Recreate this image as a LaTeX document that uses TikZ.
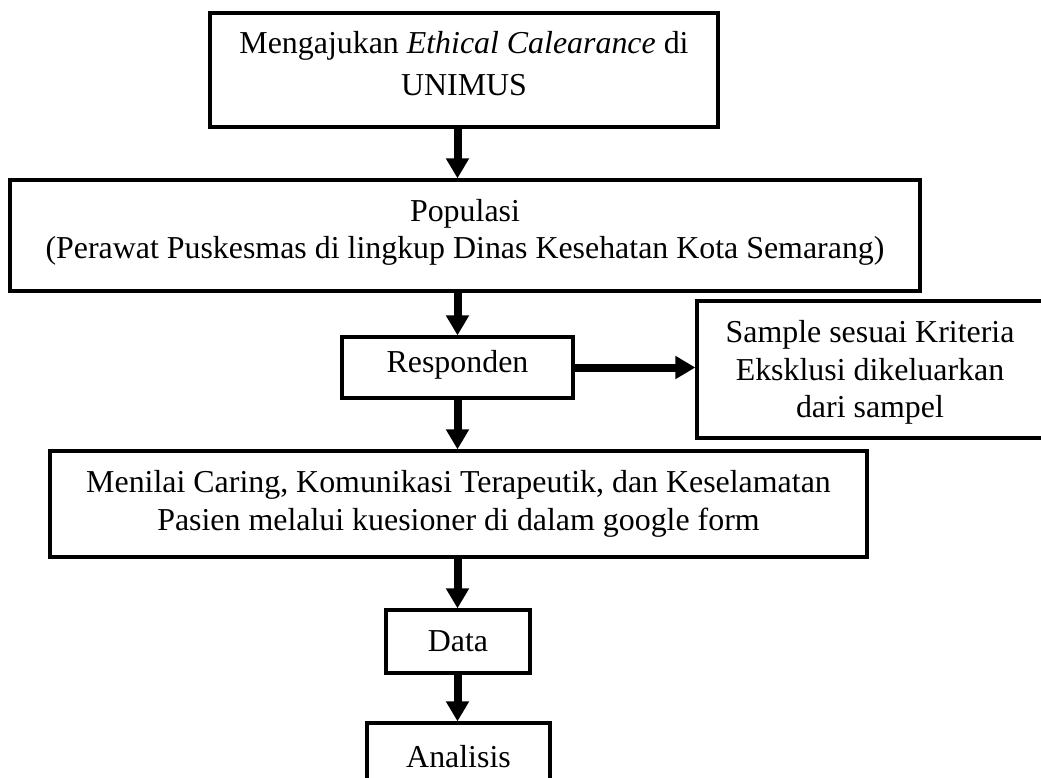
\documentclass[tikz,border=0pt]{standalone}
\usepackage{fontspec}
\setmainfont{Liberation Serif}
\usetikzlibrary{arrows.meta}
\tikzset{
  boxnode/.style={draw, line width=3.3pt, rectangle, inner sep=0pt, align=center,
    font=\fontsize{31.9}{37.5}\selectfont},
  flowarr/.style={line width=8pt, -{Triangle[width=22pt,length=20pt]}}
}
\newcommand{\dropdown}[1]{\rule[-#1]{0pt}{1pt}}
\begin{document}
\begin{tikzpicture}[x=1pt,y=-1pt]
\path[use as bounding box] (0,0) rectangle (1041,778);
\clip (0,0) rectangle (1041,778);
\node[boxnode, minimum width=508pt, minimum height=114pt, font=\fontsize{31.9}{42}\selectfont] (b1) at (464,70)
  {Mengajukan \textit{Ethical Calearance} di\\UNIMUS\dropdown{14pt}};
\node[boxnode, minimum width=910pt, minimum height=111pt] (b2) at (465,235.5)
  {Populasi\\(Perawat Puskesmas di lingkup Dinas Kesehatan Kota Semarang)\dropdown{13pt}};
\node[boxnode, minimum width=231pt, minimum height=61pt] (b3) at (457.5,367.5) {Responden\dropdown{13pt}};
\node[boxnode, minimum width=346pt, minimum height=137pt] (b4) at (870,369.5)
  {\rule{0pt}{28pt}Sample sesuai Kriteria\\Eksklusi dikeluarkan\\dari sampel};
\node[boxnode, minimum width=817pt, minimum height=106pt] (b5) at (458.5,504)
  {Menilai Caring, Komunikasi Terapeutik, dan Keselamatan\\Pasien melalui kuesioner di dalam google form};
\node[boxnode, minimum width=144pt, minimum height=63pt] (b6) at (458,641.5) {Data};
\node[boxnode, minimum width=183pt, minimum height=67pt] (b7) at (458.5,756.5) {Analisis};
\draw[flowarr] (b1.south -| b3.north) -- (b2.north -| b3.north);
\draw[flowarr] (b2.south -| b3.north) -- (b3.north);
\draw[flowarr] (b3.east) -- (b3.east -| b4.west);
\draw[flowarr] (b3.south) -- (b5.north -| b3.south);
\draw[flowarr] (b5.south -| b3.south) -- (b6.north -| b3.south);
\draw[flowarr] (b6.south -| b3.south) -- (b7.north -| b3.south);
\end{tikzpicture}
\end{document}
